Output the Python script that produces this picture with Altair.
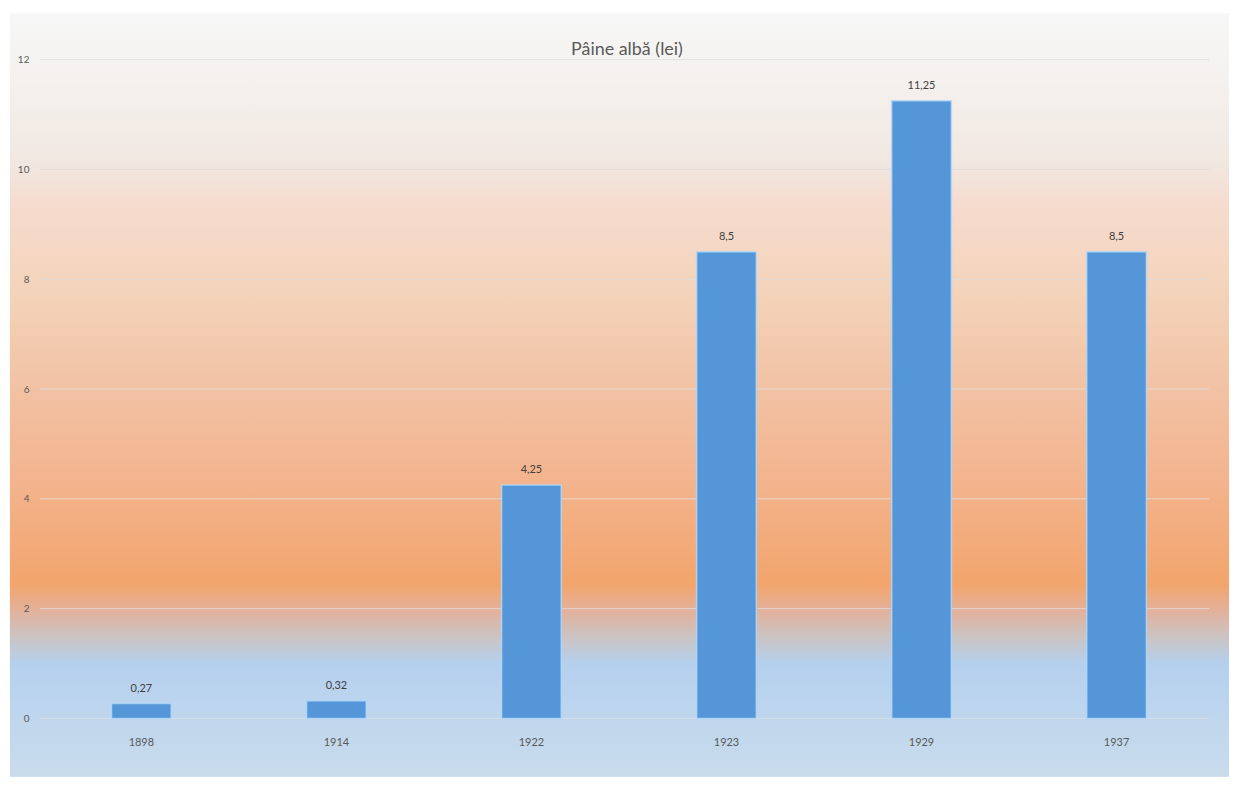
import altair as alt
import pandas as pd

years = ["1898", "1914", "1922", "1923", "1929", "1937"]
prices = [0.27, 0.32, 4.25, 8.5, 11.25, 8.5]
price_labels = ["0,27", "0,32", "4,25", "8,5", "11,25", "8,5"]
y_ticks = [0, 2, 4, 6, 8, 10, 12]
title_text = "Pâine albă (lei)"

df = pd.DataFrame({"year": years, "price": prices, "label": price_labels})
grid_df = pd.DataFrame({"v": y_ticks})
title_df = pd.DataFrame({"t": [title_text]})

W, H = 1176, 662
FONT = "Lato"
TXT = "#595959"

# background gradient stops (page y -> colour), rect spans page y 12..778
bg_top, bg_bot = 12, 778
stops_px = [
    (12, "#f7f7f7"), (60, "#f5f3f1"), (165, "#f1e7e0"), (200, "#f6dccf"),
    (300, "#f3d2b8"), (380, "#f2c3a6"), (480, "#f3b48e"), (585, "#f2a56c"),
    (612, "#e3b19c"), (640, "#c9c5c6"), (665, "#b5d0ee"), (778, "#c9dcec"),
]
stops = [alt.GradientStop(offset=(y - bg_top) / (bg_bot - bg_top), color=c) for y, c in stops_px]
grad = alt.Gradient(gradient="linear", stops=stops, x1=0, x2=0, y1=0, y2=1)

bg = alt.Chart(df).mark_rect(color=grad).encode(
    x=alt.value(-34), x2=alt.value(W + 15),
    y=alt.value(-46), y2=alt.value(H + 58),
)

yscale = alt.Scale(domain=[0, 12], nice=False)

grid = alt.Chart(grid_df).mark_rule(color="#dedede", opacity=0.8, strokeWidth=1).encode(
    y=alt.Y("v:Q", scale=yscale),
    x=alt.value(-4), x2=alt.value(W - 5),
)

xenc = alt.X("year:N", sort=years, title=None,
             scale=alt.Scale(paddingInner=0.694, paddingOuter=0.347),
             axis=alt.Axis(labelAngle=0, domain=False, ticks=False, labelPadding=18,
                           labelFont=FONT, labelFontSize=11, labelColor=TXT,
                           grid=False, zindex=1))
yenc = alt.Y("price:Q", title=None, scale=yscale,
             axis=alt.Axis(values=y_ticks, format="d", domain=False, ticks=False,
                           labelPadding=15, labelFont=FONT, labelFontSize=10,
                           labelColor=TXT, grid=False, zindex=1))

bars = alt.Chart(df).mark_bar(color="#5596d8", stroke="#b5dbfa", strokeWidth=1.5,
                              strokeOpacity=0.8).encode(x=xenc, y=yenc)

labels = alt.Chart(df).mark_text(baseline="bottom", dy=-10, font=FONT, fontSize=11,
                                 color="#404040").encode(
    x=alt.X("year:N", sort=years), y="price:Q", text="label:N")

title = alt.Chart(title_df).mark_text(font=FONT, fontSize=18, color=TXT,
                                      baseline="alphabetic", align="center").encode(
    x=alt.value(W / 2 - 2), y=alt.value(-5), text="t:N")

chart = alt.layer(bg, grid, bars, labels, title).properties(
    width=W, height=H,
    autosize=alt.AutoSizeParams(type="none"),
    padding={"left": 36, "top": 50, "right": 17, "bottom": 60},
).configure_view(stroke=None)

chart.save("out.html", embed_options={"renderer": "svg", "actions": False})
